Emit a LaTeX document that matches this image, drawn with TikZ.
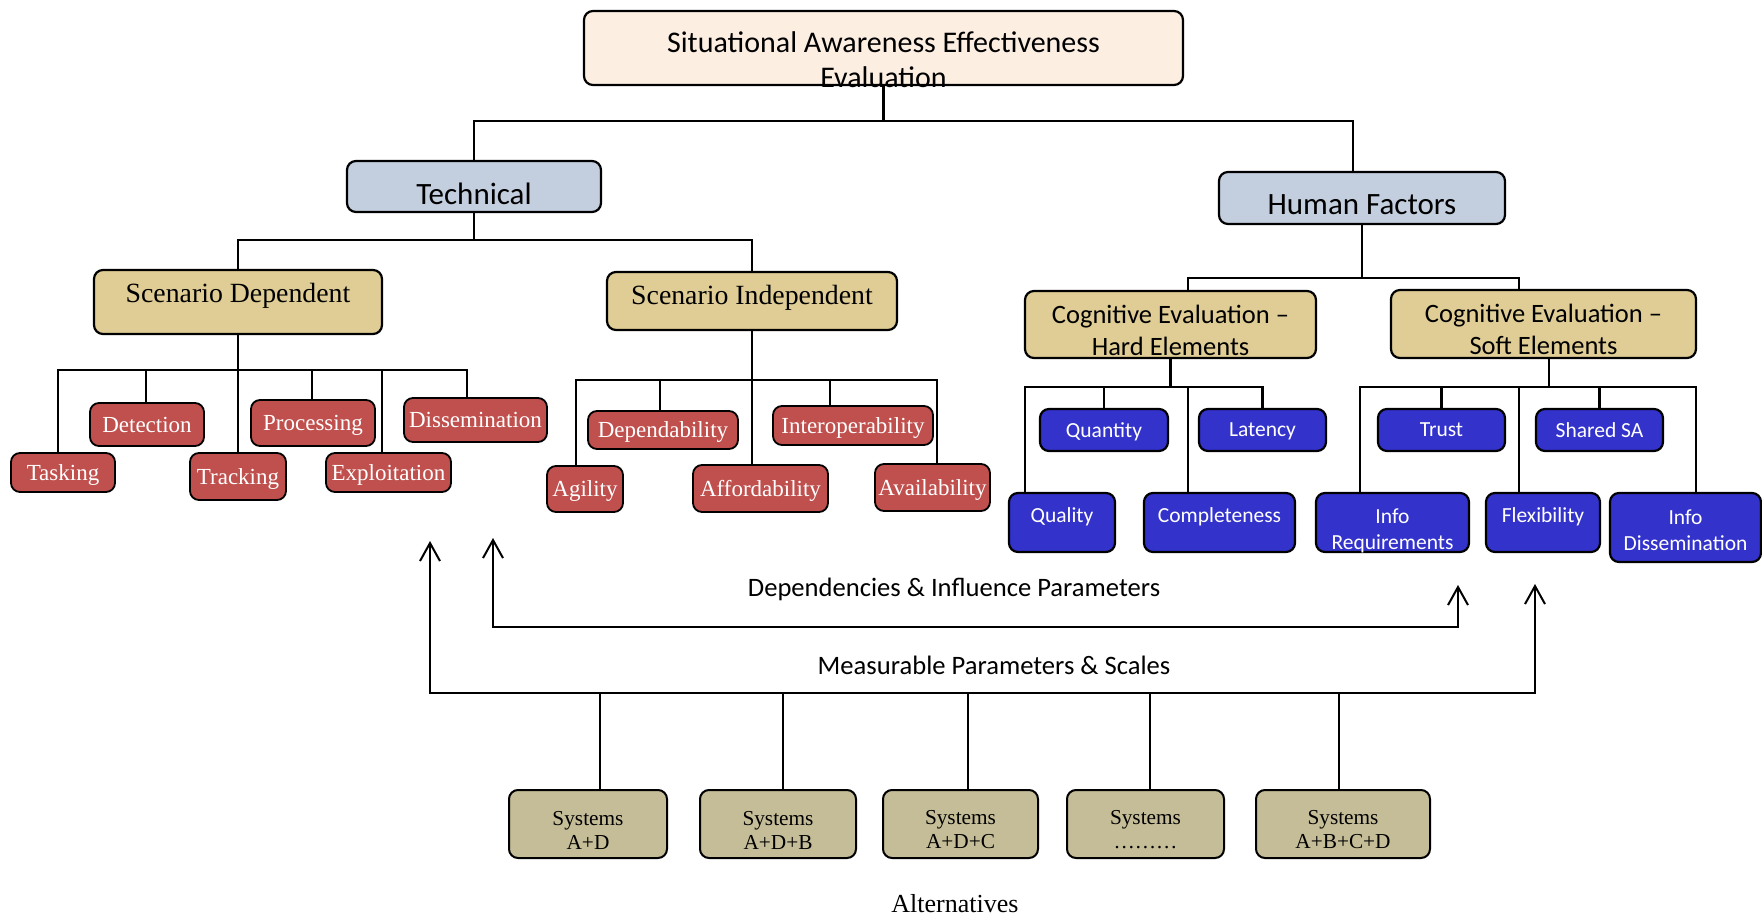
\documentclass[tikz,border=0pt]{standalone}
\usepackage{fontspec}
\setmainfont{Liberation Serif}
\newfontfamily\carlito{Carlito}
\usetikzlibrary{arrows.meta}

\definecolor{titlefill}{HTML}{FDEEE2}
\definecolor{catfill}{HTML}{C3CFDF}
\definecolor{grpfill}{HTML}{DFCD95}
\definecolor{redfill}{HTML}{C0504D}
\definecolor{bluefill}{HTML}{3333CC}
\definecolor{sysfill}{HTML}{C4BD97}

\tikzset{
  box/.style={draw, line width=2.2pt, rounded corners=9pt, inner sep=0pt, align=center},
  titletxt/.style={font=\carlito\fontsize{30}{35}\selectfont, align=center, inner sep=0pt},
  cattxt/.style={font=\carlito\fontsize{31}{36}\selectfont, inner sep=0pt},
  grptxt/.style={font=\fontsize{27.8}{32}\selectfont, inner sep=0pt},
  cogtxt/.style={font=\carlito\fontsize{26.5}{32}\selectfont, align=center, inner sep=0pt},
  redtxt/.style={font=\fontsize{23}{27}\selectfont, text=white},
  bluetxt/.style={font=\carlito\fontsize{21.5}{26}\selectfont, text=white, align=center, inner sep=0pt},
  systxt/.style={font=\fontsize{21.3}{24}\selectfont, align=center, inner sep=0pt},
  labtxt/.style={font=\carlito\fontsize{26.6}{32}\selectfont, inner sep=0pt},
  alttxt/.style={font=\fontsize{26}{30}\selectfont, inner sep=0pt},
  titlebox/.style={box, fill=titlefill},
  catbox/.style={box, fill=catfill},
  grpbox/.style={box, fill=grpfill},
  redbox/.style={box, fill=redfill, redtxt, text depth=0pt, line width=1.8pt},
  bluebox/.style={box, fill=bluefill, bluetxt, text depth=0pt},
  sysbox/.style={box, fill=sysfill, line width=2pt},
  link/.style={line width=2.2pt},
  flow/.style={line width=2pt, {Straight Barb[length=18pt,width=20pt]}-{Straight Barb[length=18pt,width=20pt]}},
}

\begin{document}
\begin{tikzpicture}[x=1pt, y=-1pt]
  \useasboundingbox (0,0) rectangle (1762,918);

  % top levels
  \node[titlebox, minimum width=599pt, minimum height=74pt,
        label={[titletxt, yshift=-11.5pt]center:{Situational Awareness Effectiveness\\Evaluation}}] (sa) at (883.5,48) {};
  \node[catbox, minimum width=254pt, minimum height=51pt,
        label={[cattxt, yshift=-7pt]center:Technical}] (tech) at (474,186.5) {};
  \node[catbox, minimum width=286pt, minimum height=52pt,
        label={[cattxt, yshift=-7pt]center:Human Factors}] (hf) at (1362,198) {};

  % groups
  \node[grpbox, minimum width=288pt, minimum height=64pt,
        label={[grptxt, yshift=6pt]center:Scenario Dependent}] (sd) at (238,302) {};
  \node[grpbox, minimum width=290pt, minimum height=58pt,
        label={[grptxt, yshift=3pt]center:Scenario Independent}] (si) at (752,301) {};
  \node[grpbox, minimum width=291pt, minimum height=67pt,
        label={[cogtxt, yshift=-5.5pt]center:{Cognitive Evaluation –\\Hard Elements}}] (ceh) at (1170.5,324.5) {};
  \node[grpbox, minimum width=305pt, minimum height=68pt,
        label={[cogtxt, yshift=-5pt]center:{Cognitive Evaluation –\\Soft Elements}}] (ces) at (1543.5,324) {};

  % technical leaves
  \node[redbox, minimum width=104pt, minimum height=39pt] (tasking) at (63,472.5) {Tasking};
  \node[redbox, minimum width=114pt, minimum height=43pt] (detect) at (147,424.5) {Detection};
  \node[redbox, minimum width=96pt, minimum height=47pt] (track) at (238,476.5) {Tracking};
  \node[redbox, minimum width=124pt, minimum height=46pt] (process) at (313,423) {Processing};
  \node[redbox, minimum width=125pt, minimum height=39pt] (exploit) at (388.5,472.5) {Exploitation};
  \node[redbox, minimum width=143pt, minimum height=44pt] (dissem) at (475.5,420) {Dissemination};
  \node[redbox, minimum width=76pt, minimum height=46pt] (agility) at (585,489) {Agility};
  \node[redbox, minimum width=150pt, minimum height=38pt] (depend) at (663,430) {Dependability};
  \node[redbox, minimum width=135pt, minimum height=47pt] (afford) at (760.5,488.5) {Affordability};
  \node[redbox, minimum width=160pt, minimum height=39pt] (interop) at (853,425.5) {Interoperability};
  \node[redbox, minimum width=115pt, minimum height=47pt] (avail) at (932.5,487.5) {Availability};

  % human factors leaves
  \node[bluebox, minimum width=128pt, minimum height=42pt] (quantity) at (1104,430) {Quantity};
  \node[bluebox, minimum width=127pt, minimum height=42pt] (latency) at (1262.5,430) {Latency};
  \node[bluebox, minimum width=106pt, minimum height=59pt,
        label={[bluetxt, yshift=5.5pt]center:Quality}] (quality) at (1062,522.5) {};
  \node[bluebox, minimum width=151pt, minimum height=59pt,
        label={[bluetxt, yshift=5.5pt]center:Completeness}] (complete) at (1219.5,522.5) {};
  \node[bluebox, minimum width=127pt, minimum height=42pt] (trust) at (1441.5,430) {Trust};
  \node[bluebox, minimum width=127pt, minimum height=42pt] (sharedsa) at (1599.5,430) {Shared SA};
  \node[bluebox, minimum width=153pt, minimum height=59pt,
        label={[bluetxt, yshift=-8.5pt]center:{Info\\Requirements}}] (inforeq) at (1392.5,522.5) {};
  \node[bluebox, minimum width=114pt, minimum height=59pt,
        label={[bluetxt, yshift=5.5pt]center:Flexibility}] (flex) at (1543,522.5) {};
  \node[bluebox, minimum width=151pt, minimum height=69pt,
        label={[bluetxt, yshift=-2.5pt]center:{Info\\Dissemination}}] (infodis) at (1685.5,527.5) {};

  % tree connectors
  \coordinate (topbus) at (883.5,121);
  \draw[link] (sa.south) -- (topbus);
  \draw[link] (tech.north) |- (topbus) -| ([xshift=-9pt]hf.north);

  \coordinate (techbus) at (474,240);
  \draw[link] (tech.south) -- (techbus);
  \draw[link] (sd.north) |- (techbus) -| (si.north);

  \coordinate (hfbus) at (1362,278);
  \draw[link] (hf.south) -- (hfbus);
  \draw[link] ([xshift=17.5pt]ceh.north) |- (hfbus) -| ([xshift=-24.5pt]ces.north);

  \coordinate (sdbus) at (238,370);
  \draw[link] (sd.south) -- (track.north);
  \foreach \n/\dx in {tasking/-5, detect/-1, process/-1, exploit/-6.5, dissem/-8.5}
    \draw[link] ([xshift=\dx pt]\n.north) |- (sdbus);

  \coordinate (sibus) at (752,380);
  \draw[link] (si.south) -- (si.south |- afford.north);
  \foreach \n/\dx in {agility/-9, depend/-3, interop/-23, avail/4.5}
    \draw[link] ([xshift=\dx pt]\n.north) |- (sibus);

  \coordinate (cehbus) at (1170.5,387);
  \draw[link] (ceh.south) -- (cehbus);
  \foreach \n/\dx in {quality/-37, quantity/0, complete/-31.5, latency/0}
    \draw[link] ([xshift=\dx pt]\n.north) |- (cehbus);

  \coordinate (cesbus) at (1549,387);
  \draw[link] ([xshift=5.5pt]ces.south) -- (cesbus);
  \foreach \n/\dx in {inforeq/-32.5, trust/0, flex/-24, sharedsa/0, infodis/10.5}
    \draw[link] ([xshift=\dx pt]\n.north) |- (cesbus);

  % parameter arrows
  \coordinate (mLtip) at (430,541);
  \coordinate (mL) at (430,693);
  \coordinate (mR) at (1535,693);
  \coordinate (mRtip) at (1535,584);
  \draw[flow] (mLtip) -- (mL) -- (mR) -- (mRtip);
  \coordinate (dLtip) at (493,538);
  \coordinate (dL) at (493,627);
  \coordinate (dR) at (1458,627);
  \coordinate (dRtip) at (1458,585);
  \draw[flow] (dLtip) -- (dL) -- (dR) -- (dRtip);

  \node[labtxt] (dep) at (954,589) {Dependencies \& Influence Parameters};
  \node[labtxt] (meas) at (994,665) {Measurable Parameters \& Scales};

  % alternatives
  \foreach \i/\x/\w/\dx/\sysname in {1/588/158/12/A+D, 2/778/156/5/A+D+B, 3/960.5/155/7.5/A+D+C,
                                     4/1145.5/157/4.5/………, 5/1343/174/-4/A+B+C+D} {
    \node[sysbox, minimum width=\w pt, minimum height=68pt,
          label={[systxt, yshift=-6pt]center:{Systems\\\sysname}}] (sys\i) at (\x,824) {};
    \draw[link] ([xshift=\dx pt]sys\i.north) -- ([xshift=\dx pt]sys\i.north |- mL);
  }
  \node[alttxt] (alt) at (955,904) {Alternatives};
\end{tikzpicture}
\end{document}
